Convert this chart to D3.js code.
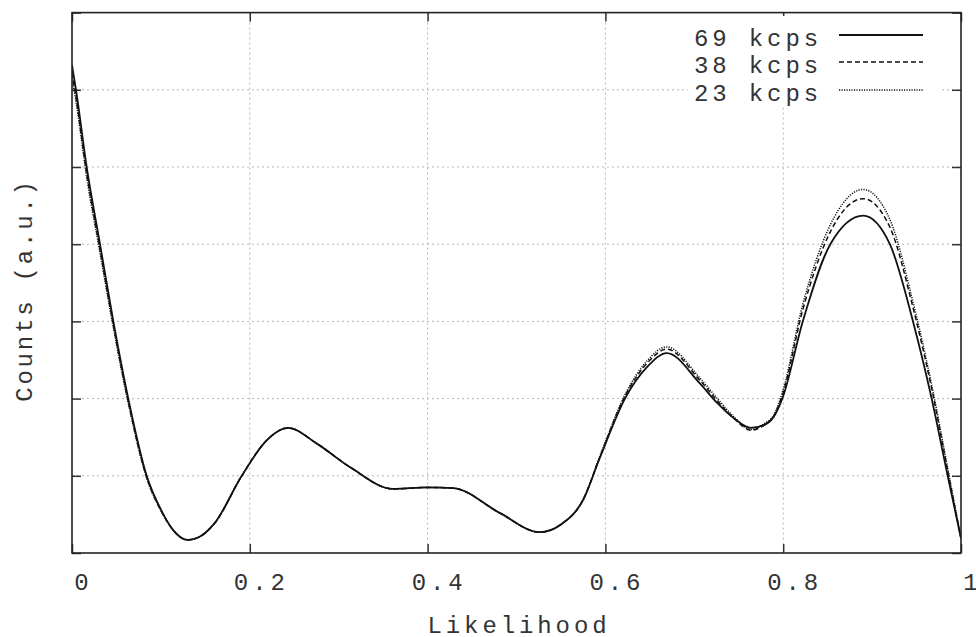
<!DOCTYPE html>
<html>
<head>
<meta charset="utf-8">
<script src="https://cdn.jsdelivr.net/npm/d3@7"></script>
<style>
  html, body { margin: 0; padding: 0; background: #fff; }
  svg { display: block; }
  text { font-family: "Liberation Mono", "Courier New", monospace; fill: #333; }
</style>
</head>
<body>
<svg id="chart" width="976" height="637"></svg>
<script>
// ---- data ----
const likelihood = [0, 0.0045, 0.0165, 0.0315, 0.0465, 0.0633, 0.084, 0.101, 0.115, 0.130, 0.145, 0.160, 0.191, 0.219, 0.243, 0.275, 0.313, 0.361, 0.40, 0.429, 0.481, 0.526, 0.55, 0.575, 0.594, 0.622, 0.647, 0.669, 0.706, 0.726, 0.744, 0.764, 0.779, 0.789, 0.799, 0.822, 0.853, 0.890, 0.920, 0.946, 0.967, 0.985, 1.0];
const counts69 = [6.32, 6.0, 5.0, 4.0, 3.0, 2.0, 1.0, 0.54, 0.28, 0.17, 0.22, 0.38, 1.0, 1.46, 1.62, 1.42, 1.11, 0.83, 0.85, 0.84, 0.52, 0.27, 0.37, 0.69, 1.24, 2.0, 2.41, 2.59, 2.20, 1.94, 1.75, 1.62, 1.66, 1.76, 2.0, 3.0, 4.0, 4.37, 4.0, 3.0, 2.0, 1.0, 0.19];
const counts38 = [6.22, 5.9, 4.92, 3.93, 2.95, 1.96, 0.98, 0.53, 0.28, 0.17, 0.22, 0.38, 1.0, 1.46, 1.62, 1.42, 1.11, 0.83, 0.85, 0.84, 0.52, 0.27, 0.37, 0.69, 1.25, 2.03, 2.46, 2.64, 2.24, 1.97, 1.75, 1.59, 1.66, 1.76, 2.04, 3.15, 4.16, 4.59, 4.22, 3.18, 2.13, 1.07, 0.19];
const counts23 = [6.15, 5.85, 4.87, 3.89, 2.92, 1.94, 0.97, 0.53, 0.28, 0.17, 0.22, 0.38, 1.0, 1.46, 1.62, 1.42, 1.11, 0.83, 0.85, 0.84, 0.52, 0.27, 0.37, 0.69, 1.26, 2.05, 2.49, 2.67, 2.27, 2.0, 1.77, 1.60, 1.68, 1.78, 2.08, 3.22, 4.25, 4.71, 4.32, 3.25, 2.18, 1.10, 0.19];
const seriesNames = ["69 kcps", "38 kcps", "23 kcps"];
const xTicks = [0, 0.2, 0.4, 0.6, 0.8, 1];
const yTicks = [0, 1, 2, 3, 4, 5, 6, 7];
const xLabel = "Likelihood";
const yLabel = "Counts (a.u.)";

// ---- layout ----
const svg = d3.select("#chart");
const pLeft = 72, pRight = 961, pTop = 12.6, pBottom = 553;
const x = d3.scaleLinear().domain([0, 1]).range([pLeft, pRight]);
const y = d3.scaleLinear().domain([0, 7]).range([pBottom, pTop]);

const dashes = [null, "5,3", "1.2,1.3"];
const widths = [1.8, 1.5, 1.5];
const seriesData = [counts69, counts38, counts23];

// grid
const grid = svg.append("g");
grid.selectAll("line.gx").data(xTicks.slice(1, -1)).join("line")
  .attr("x1", d => x(d)).attr("x2", d => x(d))
  .attr("y1", pTop).attr("y2", pBottom)
  .attr("stroke", "#b5b5b5").attr("stroke-width", 1).attr("stroke-dasharray", "2,3");
grid.selectAll("line.gy").data(yTicks.slice(1, -1)).join("line")
  .attr("x1", pLeft).attr("x2", pRight)
  .attr("y1", d => y(d)).attr("y2", d => y(d))
  .attr("stroke", "#b5b5b5").attr("stroke-width", 1).attr("stroke-dasharray", "2,3");

// axes (inward ticks)
const axB = svg.append("g").attr("transform", `translate(0,${pBottom})`)
  .call(d3.axisBottom(x).tickValues(xTicks).tickSize(-9).tickPadding(20).tickFormat(d3.format("")));
const axT = svg.append("g").attr("transform", `translate(0,${pTop})`)
  .call(d3.axisTop(x).tickValues(xTicks).tickSize(-9).tickFormat(""));
const axL = svg.append("g").attr("transform", `translate(${pLeft},0)`)
  .call(d3.axisLeft(y).tickValues(yTicks).tickSize(-9).tickFormat(""));
const axR = svg.append("g").attr("transform", `translate(${pRight},0)`)
  .call(d3.axisRight(y).tickValues(yTicks).tickSize(-9).tickFormat(""));
[axB, axT, axL, axR].forEach(a => {
  a.select(".domain").remove();
  a.selectAll(".tick line").attr("stroke", "#333").attr("stroke-width", 1.5);
});
axB.selectAll(".tick text")
  .attr("font-family", "Liberation Mono, monospace")
  .attr("font-size", 24).attr("letter-spacing", 3.9)
  .attr("fill", "#333").attr("dx", 11);

// legend background
svg.append("rect").attr("x", 688).attr("y", 16).attr("width", 252).attr("height", 90).attr("fill", "#fff");

// lines
const line = d3.line().x((d, i) => x(likelihood[i])).y(d => y(d)).curve(d3.curveMonotoneX);
const order = [2, 1, 0];
svg.append("clipPath").attr("id", "clp").append("rect")
  .attr("x", pLeft).attr("y", pTop).attr("width", pRight - pLeft).attr("height", pBottom - pTop);
svg.append("g").attr("clip-path", "url(#clp)")
  .selectAll("path").data(order).join("path")
  .attr("d", k => line(seriesData[k]))
  .attr("fill", "none").attr("stroke", "#111")
  .attr("stroke-width", k => widths[k])
  .attr("stroke-dasharray", k => dashes[k]);

// frame
svg.append("rect").attr("x", pLeft).attr("y", pTop).attr("width", pRight - pLeft).attr("height", pBottom - pTop)
  .attr("fill", "none").attr("stroke", "#222").attr("stroke-width", 1.6);

// legend
const legendY = [38, 65, 93];
const lg = svg.append("g");
seriesNames.forEach((name, i) => {
  lg.append("text").attr("x", 822).attr("y", legendY[i] + 8)
    .attr("text-anchor", "end").attr("font-size", 24).attr("letter-spacing", 3.9).text(name);
  lg.append("line").attr("x1", 839).attr("x2", 923)
    .attr("y1", legendY[i] - 3).attr("y2", legendY[i] - 3)
    .attr("stroke", "#111").attr("stroke-width", widths[i])
    .attr("stroke-dasharray", dashes[i]);
});

// axis titles
svg.append("text").attr("x", 519).attr("y", 633).attr("text-anchor", "middle")
  .attr("font-size", 24).attr("letter-spacing", 3.9).text(xLabel);
svg.append("text").attr("transform", "translate(32,290) rotate(-90)").attr("text-anchor", "middle")
  .attr("font-size", 24).attr("letter-spacing", 2.8).text(yLabel);
</script>
</body>
</html>
